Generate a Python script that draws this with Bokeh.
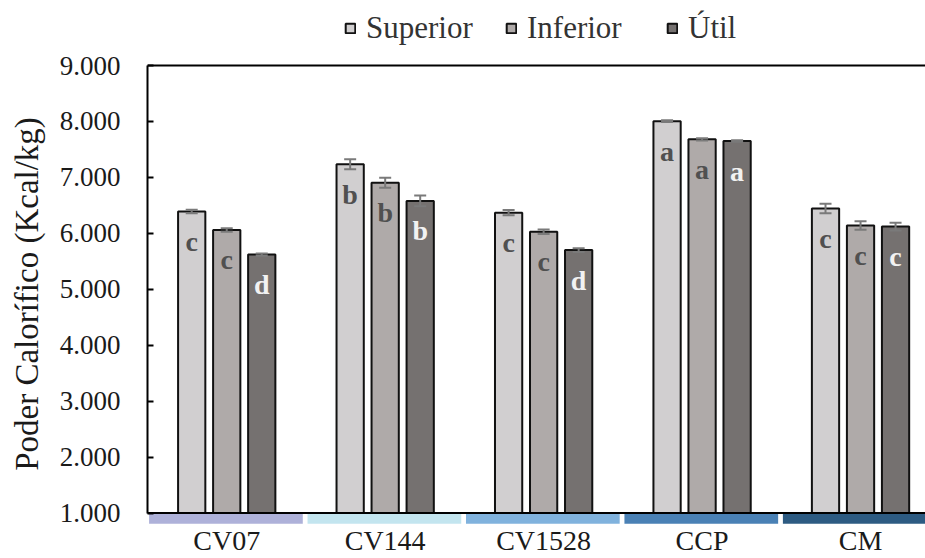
from bokeh.plotting import figure
from bokeh.layouts import column
from bokeh.models import (Range1d, FixedTicker, Span, Whisker, TeeHead, ColumnDataSource,
                          Legend, LegendItem, LinearAxis)
from bokeh.core.properties import value
from bokeh.embed import file_html
from bokeh.resources import INLINE

categories = ["CV07", "CV144", "CV1528", "CCP", "CM"]
superior = [6390, 7235, 6370, 8005, 6445]
inferior = [6060, 6905, 6030, 7680, 6140]
util = [5620, 6580, 5700, 7650, 6120]
err_sup = [30, 90, 45, 15, 85]
err_inf = [30, 90, 40, 20, 75]
err_util = [20, 95, 35, 15, 70]
letters_sup = ["c", "b", "c", "a", "c"]
letters_inf = ["c", "b", "c", "a", "c"]
letters_util = ["d", "b", "d", "a", "c"]
series_names = ["Superior", "Inferior", "Útil"]
y_ticks = [1000, 2000, 3000, 4000, 5000, 6000, 7000, 8000, 9000]
y_tick_labels = ["1.000", "2.000", "3.000", "4.000", "5.000", "6.000", "7.000", "8.000", "9.000"]
band_colors = ["#aeb1d9", "#c3e5ef", "#80b2dd", "#4a81b5", "#2d5b82"]

bar_colors = ["#d1cfd0", "#afaaa9", "#757170"]
letter_colors = ["#505050", "#505050", "#f2f2f2"]
FONT = "Liberation Serif"

# ---------- legend strip ----------
lg = figure(width=925, height=48, output_backend="svg", toolbar_location=None,
            x_range=Range1d(0, 1), y_range=Range1d(0, 1),
            min_border_left=0, min_border_top=0, min_border_right=0, min_border_bottom=0,
            x_axis_type=None, y_axis_type=None)
lg.title = None
lg.outline_line_color = None
lg.xgrid.visible = False
lg.ygrid.visible = False
lg_renderers = []
for k in range(3):
    # hidden placeholder renderers that only feed the legend swatches
    r = lg.vbar(x=[0.5], top=[1], bottom=0, width=0.1,
                fill_color=bar_colors[k], line_color="#111111", line_width=2)
    r.visible = False
    lg_renderers.append(r)
legend = Legend(items=[LegendItem(label=series_names[k], renderers=[lg_renderers[k]]) for k in range(3)],
                orientation="horizontal", location=(197, 2))
legend.label_text_font = FONT
legend.label_text_font_size = "31px"
legend.label_text_color = "#333333"
legend.glyph_width = 12
legend.glyph_height = 12
legend.label_standoff = 10
legend.label_width = 108
legend.spacing = 31
legend.padding = 0
legend.margin = 0
legend.border_line_color = None
legend.background_fill_alpha = 0
legend.inactive_fill_alpha = 0
lg.add_layout(legend, "center")

# ---------- main chart ----------
p = figure(width=925, height=510, output_backend="svg", toolbar_location=None,
           x_range=Range1d(-0.5, 4.41), y_range=Range1d(795, 9036),
           min_border_left=147, min_border_top=15, min_border_right=0, min_border_bottom=0,
           x_axis_type=None, y_axis_type=None)
p.title = None
p.outline_line_color = None
p.xgrid.visible = False
p.ygrid.visible = False
p.background_fill_color = "white"
p.border_fill_color = "white"

# y axis
yax = LinearAxis(bounds=(1000, 9000), ticker=FixedTicker(ticks=y_ticks))
yax.major_label_overrides = {t: l for t, l in zip(y_ticks, y_tick_labels)}
yax.axis_line_color = "black"
yax.axis_line_width = 2
yax.major_tick_in = 6
yax.major_tick_out = 0
yax.major_tick_line_width = 2
yax.minor_tick_line_color = None
yax.major_label_standoff = 27
yax.major_label_text_font = FONT
yax.major_label_text_font_size = "27px"
yax.major_label_text_color = "#1a1a1a"
yax.axis_label = "Poder Calorífico (Kcal/kg)"
yax.axis_label_text_font = FONT
yax.axis_label_text_font_size = "33px"
yax.axis_label_text_font_style = "normal"
yax.axis_label_text_color = "#1a1a1a"
yax.axis_label_standoff = 12
p.add_layout(yax, "left")

# x axis (labels only)
xs = list(range(len(categories)))
xax = LinearAxis(ticker=FixedTicker(ticks=xs))
xax.major_label_overrides = {i: c for i, c in zip(xs, categories)}
xax.axis_line_color = None
xax.major_tick_line_color = None
xax.minor_tick_line_color = None
xax.major_tick_out = 0
xax.major_tick_in = 0
xax.major_label_standoff = 0
xax.major_label_text_font = FONT
xax.major_label_text_font_size = "28px"
xax.major_label_text_color = "#1a1a1a"
p.add_layout(xax, "below")

# colored category bands under the axis
p.quad(left=[i - 0.49 for i in xs], right=[i + 0.48 for i in xs],
       bottom=810, top=990, fill_color=band_colors, line_color=None)

# bars
offsets = [-0.221, 0.0, 0.221]
width = 0.172
all_vals = [superior, inferior, util]
all_errs = [err_sup, err_inf, err_util]
all_letters = [letters_sup, letters_inf, letters_util]
for k in range(3):
    bx = [i + offsets[k] for i in xs]
    p.vbar(x=bx, top=all_vals[k], bottom=1000, width=width,
           fill_color=bar_colors[k], line_color="#111111", line_width=2)
    src = ColumnDataSource(dict(x=bx, upper=[v + e for v, e in zip(all_vals[k], all_errs[k])],
                                lower=[v - e for v, e in zip(all_vals[k], all_errs[k])]))
    w = Whisker(base="x", upper="upper", lower="lower", source=src, dimension="height",
                line_color="#7a7a7a", line_width=2, level="overlay",
                upper_head=TeeHead(size=12, line_color="#7a7a7a", line_width=2),
                lower_head=TeeHead(size=12, line_color="#7a7a7a", line_width=2))
    p.add_layout(w)
    p.text(x=bx, y=all_vals[k], text=all_letters[k], y_offset=30,
           text_font=value(FONT), text_font_style="bold", text_font_size="28px",
           text_color=letter_colors[k], text_align="center", text_baseline="middle")

# axis frame lines
p.add_layout(Span(location=1000, dimension="width", line_color="black", line_width=2))
p.add_layout(Span(location=9000, dimension="width", line_color="black", line_width=2))

layout = column(lg, p, spacing=0)
open("out.html", "w").write(file_html(layout, INLINE))
